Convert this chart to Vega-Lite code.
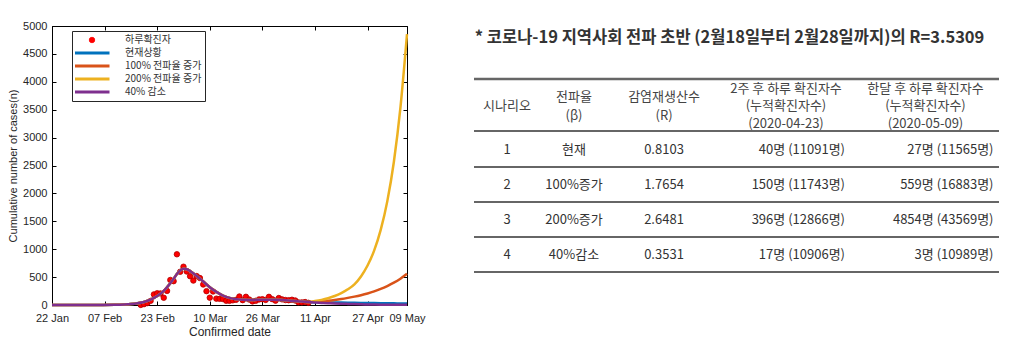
{
  "$schema": "https://vega.github.io/schema/vega-lite/v6.json",
  "background": "white",
  "padding": {"left": 7, "top": 19, "right": 5, "bottom": 5},
  "config": {
    "view": {"stroke": null},
    "font": "Liberation Sans"
  },
  "datasets": {
    "daily": [
      {"date": "2020-02-18", "cases": 1}, {"date": "2020-02-19", "cases": 15}, {"date": "2020-02-20", "cases": 34},
      {"date": "2020-02-21", "cases": 74}, {"date": "2020-02-22", "cases": 190}, {"date": "2020-02-23", "cases": 210},
      {"date": "2020-02-24", "cases": 207}, {"date": "2020-02-25", "cases": 130}, {"date": "2020-02-26", "cases": 253},
      {"date": "2020-02-27", "cases": 449}, {"date": "2020-02-28", "cases": 427}, {"date": "2020-02-29", "cases": 909},
      {"date": "2020-03-01", "cases": 595}, {"date": "2020-03-02", "cases": 686}, {"date": "2020-03-03", "cases": 600},
      {"date": "2020-03-04", "cases": 516}, {"date": "2020-03-05", "cases": 438}, {"date": "2020-03-06", "cases": 518},
      {"date": "2020-03-07", "cases": 483}, {"date": "2020-03-08", "cases": 367}, {"date": "2020-03-09", "cases": 248},
      {"date": "2020-03-10", "cases": 131}, {"date": "2020-03-11", "cases": 242}, {"date": "2020-03-12", "cases": 114},
      {"date": "2020-03-13", "cases": 110}, {"date": "2020-03-14", "cases": 107}, {"date": "2020-03-15", "cases": 76},
      {"date": "2020-03-16", "cases": 74}, {"date": "2020-03-17", "cases": 84}, {"date": "2020-03-18", "cases": 93},
      {"date": "2020-03-19", "cases": 152}, {"date": "2020-03-20", "cases": 87}, {"date": "2020-03-21", "cases": 147},
      {"date": "2020-03-22", "cases": 98}, {"date": "2020-03-23", "cases": 64}, {"date": "2020-03-24", "cases": 76},
      {"date": "2020-03-25", "cases": 100}, {"date": "2020-03-26", "cases": 104}, {"date": "2020-03-27", "cases": 91},
      {"date": "2020-03-28", "cases": 146}, {"date": "2020-03-29", "cases": 105}, {"date": "2020-03-30", "cases": 78},
      {"date": "2020-03-31", "cases": 125}, {"date": "2020-04-01", "cases": 101}, {"date": "2020-04-02", "cases": 89},
      {"date": "2020-04-03", "cases": 86}, {"date": "2020-04-04", "cases": 94}, {"date": "2020-04-05", "cases": 81},
      {"date": "2020-04-06", "cases": 47}, {"date": "2020-04-07", "cases": 47}, {"date": "2020-04-08", "cases": 53},
      {"date": "2020-04-09", "cases": 39}
    ],
    "model": [
      {"date": "2020-01-22", "현재상황": 0, "100% 전파율 증가": 0, "200% 전파율 증가": 0, "40% 감소": 0},
      {"date": "2020-01-29", "현재상황": 0, "100% 전파율 증가": 0, "200% 전파율 증가": 0, "40% 감소": 0},
      {"date": "2020-02-05", "현재상황": 1, "100% 전파율 증가": 1, "200% 전파율 증가": 1, "40% 감소": 1},
      {"date": "2020-02-10", "현재상황": 4, "100% 전파율 증가": 4, "200% 전파율 증가": 4, "40% 감소": 4},
      {"date": "2020-02-13", "현재상황": 10, "100% 전파율 증가": 10, "200% 전파율 증가": 10, "40% 감소": 10},
      {"date": "2020-02-15", "현재상황": 18, "100% 전파율 증가": 18, "200% 전파율 증가": 18, "40% 감소": 18},
      {"date": "2020-02-17", "현재상황": 32, "100% 전파율 증가": 32, "200% 전파율 증가": 32, "40% 감소": 32},
      {"date": "2020-02-19", "현재상황": 55, "100% 전파율 증가": 55, "200% 전파율 증가": 55, "40% 감소": 55},
      {"date": "2020-02-21", "현재상황": 95, "100% 전파율 증가": 95, "200% 전파율 증가": 95, "40% 감소": 95},
      {"date": "2020-02-23", "현재상황": 160, "100% 전파율 증가": 160, "200% 전파율 증가": 160, "40% 감소": 160},
      {"date": "2020-02-25", "현재상황": 255, "100% 전파율 증가": 255, "200% 전파율 증가": 255, "40% 감소": 255},
      {"date": "2020-02-27", "현재상황": 390, "100% 전파율 증가": 390, "200% 전파율 증가": 390, "40% 감소": 390},
      {"date": "2020-02-28", "현재상황": 470, "100% 전파율 증가": 470, "200% 전파율 증가": 470, "40% 감소": 470},
      {"date": "2020-02-29", "현재상황": 555, "100% 전파율 증가": 555, "200% 전파율 증가": 555, "40% 감소": 555},
      {"date": "2020-03-01", "현재상황": 620, "100% 전파율 증가": 620, "200% 전파율 증가": 620, "40% 감소": 620},
      {"date": "2020-03-02", "현재상황": 648, "100% 전파율 증가": 648, "200% 전파율 증가": 648, "40% 감소": 648},
      {"date": "2020-03-03", "현재상황": 640, "100% 전파율 증가": 640, "200% 전파율 증가": 640, "40% 감소": 640},
      {"date": "2020-03-04", "현재상황": 610, "100% 전파율 증가": 610, "200% 전파율 증가": 610, "40% 감소": 610},
      {"date": "2020-03-06", "현재상황": 520, "100% 전파율 증가": 520, "200% 전파율 증가": 520, "40% 감소": 520},
      {"date": "2020-03-08", "현재상황": 420, "100% 전파율 증가": 420, "200% 전파율 증가": 420, "40% 감소": 420},
      {"date": "2020-03-10", "현재상황": 320, "100% 전파율 증가": 320, "200% 전파율 증가": 320, "40% 감소": 320},
      {"date": "2020-03-12", "현재상황": 235, "100% 전파율 증가": 235, "200% 전파율 증가": 235, "40% 감소": 235},
      {"date": "2020-03-14", "현재상황": 170, "100% 전파율 증가": 170, "200% 전파율 증가": 170, "40% 감소": 170},
      {"date": "2020-03-16", "현재상황": 127, "100% 전파율 증가": 127, "200% 전파율 증가": 127, "40% 감소": 127},
      {"date": "2020-03-18", "현재상황": 104, "100% 전파율 증가": 104, "200% 전파율 증가": 104, "40% 감소": 104},
      {"date": "2020-03-20", "현재상황": 94, "100% 전파율 증가": 94, "200% 전파율 증가": 94, "40% 감소": 94},
      {"date": "2020-03-23", "현재상황": 90, "100% 전파율 증가": 90, "200% 전파율 증가": 90, "40% 감소": 90},
      {"date": "2020-03-26", "현재상황": 94, "100% 전파율 증가": 94, "200% 전파율 증가": 94, "40% 감소": 94},
      {"date": "2020-03-29", "현재상황": 94, "100% 전파율 증가": 94, "200% 전파율 증가": 94, "40% 감소": 94},
      {"date": "2020-04-01", "현재상황": 88, "100% 전파율 증가": 88, "200% 전파율 증가": 88, "40% 감소": 88},
      {"date": "2020-04-03", "현재상황": 80, "100% 전파율 증가": 80, "200% 전파율 증가": 80, "40% 감소": 80},
      {"date": "2020-04-05", "현재상황": 70, "100% 전파율 증가": 70, "200% 전파율 증가": 70, "40% 감소": 70},
      {"date": "2020-04-07", "현재상황": 61, "100% 전파율 증가": 61, "200% 전파율 증가": 61, "40% 감소": 61},
      {"date": "2020-04-09", "현재상황": 53, "100% 전파율 증가": 53, "200% 전파율 증가": 53, "40% 감소": 53},
      {"date": "2020-04-11", "현재상황": 51, "100% 전파율 증가": 58, "200% 전파율 증가": 70, "40% 감소": 45},
      {"date": "2020-04-13", "현재상황": 49, "100% 전파율 증가": 66, "200% 전파율 증가": 92, "40% 감소": 38},
      {"date": "2020-04-15", "현재상황": 47, "100% 전파율 증가": 77, "200% 전파율 증가": 122, "40% 감소": 32},
      {"date": "2020-04-17", "현재상황": 45, "100% 전파율 증가": 91, "200% 전파율 증가": 161, "40% 감소": 27},
      {"date": "2020-04-19", "현재상황": 43, "100% 전파율 증가": 108, "200% 전파율 증가": 213, "40% 감소": 23},
      {"date": "2020-04-21", "현재상황": 41, "100% 전파율 증가": 128, "200% 전파율 증가": 281, "40% 감소": 20},
      {"date": "2020-04-23", "현재상황": 40, "100% 전파율 증가": 150, "200% 전파율 증가": 371, "40% 감소": 17},
      {"date": "2020-04-25", "현재상황": 38, "100% 전파율 증가": 176, "200% 전파율 증가": 512, "40% 감소": 13},
      {"date": "2020-04-27", "현재상황": 37, "100% 전파율 증가": 207, "200% 전파율 증가": 707, "40% 감소": 10},
      {"date": "2020-04-29", "현재상황": 35, "100% 전파율 증가": 244, "200% 전파율 증가": 975, "40% 감소": 8},
      {"date": "2020-05-01", "현재상황": 33, "100% 전파율 증가": 288, "200% 전파율 증가": 1346, "40% 감소": 6.5},
      {"date": "2020-05-03", "현재상황": 31, "100% 전파율 증가": 340, "200% 전파율 증가": 1857, "40% 감소": 5},
      {"date": "2020-05-05", "현재상황": 30, "100% 전파율 증가": 400, "200% 전파율 증가": 2563, "40% 감소": 4.2},
      {"date": "2020-05-07", "현재상황": 28, "100% 전파율 증가": 472, "200% 전파율 증가": 3537, "40% 감소": 3.5},
      {"date": "2020-05-09", "현재상황": 27, "100% 전파율 증가": 559, "200% 전파율 증가": 4854, "40% 감소": 3}
    ],
    "note": [{"text": "* 코로나-19 지역사회 전파 초반 (2월18일부터 2월28일까지)의 R=3.5309"}],
    "header": [
      {"row": "h", "c1": "시나리오", "c2": "전파율\n(β)", "c3": "감염재생산수\n(R)", "c4": "2주 후 하루 확진자수\n(누적확진자수)\n(2020-04-23)", "c5": "한달 후 하루 확진자수\n(누적확진자수)\n(2020-05-09)"}
    ],
    "rows": [
      {"row": "1", "c1": "1", "c2": "현재", "c3": "0.8103", "c4": "40명 (11091명)", "c5": "27명 (11565명)"},
      {"row": "2", "c1": "2", "c2": "100%증가", "c3": "1.7654", "c4": "150명 (11743명)", "c5": "559명 (16883명)"},
      {"row": "3", "c1": "3", "c2": "200%증가", "c3": "2.6481", "c4": "396명 (12866명)", "c5": "4854명 (43569명)"},
      {"row": "4", "c1": "4", "c2": "40%감소", "c3": "0.3531", "c4": "17명 (10906명)", "c5": "3명 (10989명)"}
    ]
  },
  "spacing": 46,
  "hconcat": [
    {
      "width": 355,
      "height": 279,
      "view": {"stroke": "#000000", "strokeWidth": 1},
      "resolve": {"axis": {"x": "independent", "y": "independent"}},
      "layer": [
        {
          "data": {"name": "daily"},
          "mark": {"type": "point", "filled": true, "size": 30, "stroke": "#b00000", "strokeWidth": 0.8, "opacity": 1},
          "encoding": {
            "x": {
              "field": "date", "type": "temporal",
              "scale": {"type": "utc", "domain": [{"year": 2020, "month": 1, "date": 22, "utc": true}, {"year": 2020, "month": 5, "date": 9, "utc": true}]},
              "axis": {
                "orient": "bottom",
                "values": [
                  {"year": 2020, "month": 1, "date": 22, "utc": true}, {"year": 2020, "month": 2, "date": 7, "utc": true},
                  {"year": 2020, "month": 2, "date": 23, "utc": true}, {"year": 2020, "month": 3, "date": 10, "utc": true},
                  {"year": 2020, "month": 3, "date": 26, "utc": true}, {"year": 2020, "month": 4, "date": 11, "utc": true},
                  {"year": 2020, "month": 4, "date": 27, "utc": true}, {"year": 2020, "month": 5, "date": 9, "utc": true}
                ],
                "labelExpr": "utcFormat(datum.value, '%d %b')",
                "labelFlush": false, "labelOverlap": false,
                "title": "Confirmed date", "titleFontSize": 12, "titleFontWeight": "normal", "titleColor": "#262626", "titlePadding": 3,
                "labelFontSize": 11, "labelColor": "#262626", "labelPadding": 11,
                "tickSize": -4, "tickColor": "#000000", "domainColor": "#000000", "grid": false
              }
            },
            "y": {
              "field": "cases", "type": "quantitative",
              "scale": {"domain": [0, 5000], "nice": false},
              "axis": {
                "orient": "left",
                "values": [0, 500, 1000, 1500, 2000, 2500, 3000, 3500, 4000, 4500, 5000],
                "format": "d",
                "title": "Cumulative number of cases(n)", "titleFontSize": 11, "titleFontWeight": "normal", "titleColor": "#262626", "titlePadding": 4,
                "labelFontSize": 11, "labelColor": "#262626", "labelPadding": 9,
                "tickSize": -4, "tickColor": "#000000", "domainColor": "#000000", "grid": false
              }
            },
            "color": {
              "datum": "하루확진자", "type": "nominal",
              "scale": {
                "domain": ["하루확진자", "현재상황", "100% 전파율 증가", "200% 전파율 증가", "40% 감소"],
                "range": ["#ff0000", "#0072bd", "#d95319", "#edb120", "#7e2f8e"]
              }
            }
          }
        },
        {
          "data": {"name": "model"},
          "transform": [{"fold": ["현재상황", "100% 전파율 증가", "200% 전파율 증가", "40% 감소"], "as": ["series", "value"]}],
          "mark": {"type": "line", "strokeWidth": 2.5, "interpolate": "monotone"},
          "encoding": {
            "x": {
              "field": "date", "type": "temporal",
              "axis": {
                "orient": "top",
                "values": [
                  {"year": 2020, "month": 1, "date": 22, "utc": true}, {"year": 2020, "month": 2, "date": 7, "utc": true},
                  {"year": 2020, "month": 2, "date": 23, "utc": true}, {"year": 2020, "month": 3, "date": 10, "utc": true},
                  {"year": 2020, "month": 3, "date": 26, "utc": true}, {"year": 2020, "month": 4, "date": 11, "utc": true},
                  {"year": 2020, "month": 4, "date": 27, "utc": true}, {"year": 2020, "month": 5, "date": 9, "utc": true}
                ],
                "labels": false, "title": null, "domain": false, "grid": false,
                "tickSize": -4, "tickColor": "#000000"
              }
            },
            "y": {
              "field": "value", "type": "quantitative",
              "axis": {
                "orient": "right",
                "values": [0, 500, 1000, 1500, 2000, 2500, 3000, 3500, 4000, 4500, 5000],
                "labels": false, "title": null, "domain": false, "grid": false,
                "tickSize": -4, "tickColor": "#000000"
              }
            },
            "color": {
              "field": "series", "type": "nominal",
              "legend": {
                "title": null,
                "orient": "none", "legendX": 20, "legendY": 5,
                "fillColor": "#ffffff", "strokeColor": "#262626",
                "padding": 3,
                "labelFont": "Noto Sans CJK KR", "labelFontSize": 10, "labelColor": "#333333", "labelOffset": 28,
                "symbolType": "stroke", "symbolSize": 1225, "symbolStrokeWidth": 3, "symbolOffset": 12,
                "clipHeight": 12, "rowPadding": 1,
                "encode": {
                  "symbols": {
                    "update": {
                      "shape": {"signal": "datum.value === '하루확진자' ? 'circle' : 'stroke'"},
                      "size": {"signal": "datum.value === '하루확진자' ? 30 : 1225"},
                      "fill": {"signal": "datum.value === '하루확진자' ? '#ff0000' : 'transparent'"},
                      "stroke": {"signal": "datum.value === '하루확진자' ? '#b00000' : scale('color', datum.value)"},
                      "strokeWidth": {"signal": "datum.value === '하루확진자' ? 0.8 : 3"}
                    }
                  }
                }
              }
            }
          }
        }
      ]
    },
    {
      "spacing": 29,
      "bounds": "flush",
      "vconcat": [
        {
          "width": 525,
          "height": 24,
          "data": {"name": "note"},
          "mark": {"type": "text", "font": "Noto Sans CJK KR", "fontSize": 16.5, "fontWeight": "bold", "color": "#333333", "baseline": "middle", "dx": -7},
          "encoding": {"text": {"field": "text", "type": "nominal"}}
        },
        {
          "spacing": 0,
          "vconcat": [
            {
              "spacing": 0,
              "bounds": "flush",
              "hconcat": [
                {
                  "width": 66, "height": 52, "data": {"name": "header"},
                  "encoding": {"y": {"field": "row", "type": "nominal", "scale": {"type": "band", "domain": ["h"], "paddingInner": 0, "paddingOuter": 0}, "axis": null}},
                  "layer": [
                    {"mark": {"type": "text", "font": "Noto Sans CJK KR", "fontSize": 13, "color": "#444444", "lineBreak": "\n", "lineHeight": 17.5, "baseline": "middle", "dy": 1}, "encoding": {"text": {"field": "c1", "type": "nominal"}}},
                    {"mark": {"type": "rule", "color": "#666666", "strokeWidth": 2.5}, "encoding": {"y": {"field": "row", "type": "nominal", "bandPosition": 0}}},
                    {"mark": {"type": "rule", "color": "#333333", "strokeWidth": 1.6}, "encoding": {"y": {"field": "row", "type": "nominal", "bandPosition": 1}}}
                  ]
                },
                {
                  "width": 68, "height": 52, "data": {"name": "header"},
                  "encoding": {"y": {"field": "row", "type": "nominal", "scale": {"type": "band", "domain": ["h"], "paddingInner": 0, "paddingOuter": 0}, "axis": null}},
                  "layer": [
                    {"mark": {"type": "text", "font": "Noto Sans CJK KR", "fontSize": 13, "color": "#444444", "lineBreak": "\n", "lineHeight": 19, "baseline": "middle", "dy": -8}, "encoding": {"text": {"field": "c2", "type": "nominal"}}},
                    {"mark": {"type": "rule", "color": "#666666", "strokeWidth": 2.5}, "encoding": {"y": {"field": "row", "type": "nominal", "bandPosition": 0}}},
                    {"mark": {"type": "rule", "color": "#333333", "strokeWidth": 1.6}, "encoding": {"y": {"field": "row", "type": "nominal", "bandPosition": 1}}}
                  ]
                },
                {
                  "width": 112, "height": 52, "data": {"name": "header"},
                  "encoding": {"y": {"field": "row", "type": "nominal", "scale": {"type": "band", "domain": ["h"], "paddingInner": 0, "paddingOuter": 0}, "axis": null}},
                  "layer": [
                    {"mark": {"type": "text", "font": "Noto Sans CJK KR", "fontSize": 13, "color": "#444444", "lineBreak": "\n", "lineHeight": 19, "baseline": "middle", "dy": -8}, "encoding": {"text": {"field": "c3", "type": "nominal"}}},
                    {"mark": {"type": "rule", "color": "#666666", "strokeWidth": 2.5}, "encoding": {"y": {"field": "row", "type": "nominal", "bandPosition": 0}}},
                    {"mark": {"type": "rule", "color": "#333333", "strokeWidth": 1.6}, "encoding": {"y": {"field": "row", "type": "nominal", "bandPosition": 1}}}
                  ]
                },
                {
                  "width": 132, "height": 52, "data": {"name": "header"},
                  "encoding": {"y": {"field": "row", "type": "nominal", "scale": {"type": "band", "domain": ["h"], "paddingInner": 0, "paddingOuter": 0}, "axis": null}},
                  "layer": [
                    {"mark": {"type": "text", "font": "Noto Sans CJK KR", "fontSize": 13, "color": "#444444", "lineBreak": "\n", "lineHeight": 17.5, "baseline": "middle", "dy": -16.5}, "encoding": {"text": {"field": "c4", "type": "nominal"}}},
                    {"mark": {"type": "rule", "color": "#666666", "strokeWidth": 2.5}, "encoding": {"y": {"field": "row", "type": "nominal", "bandPosition": 0}}},
                    {"mark": {"type": "rule", "color": "#333333", "strokeWidth": 1.6}, "encoding": {"y": {"field": "row", "type": "nominal", "bandPosition": 1}}}
                  ]
                },
                {
                  "width": 147, "height": 52, "data": {"name": "header"},
                  "encoding": {"y": {"field": "row", "type": "nominal", "scale": {"type": "band", "domain": ["h"], "paddingInner": 0, "paddingOuter": 0}, "axis": null}},
                  "layer": [
                    {"mark": {"type": "text", "font": "Noto Sans CJK KR", "fontSize": 13, "color": "#444444", "lineBreak": "\n", "lineHeight": 17.5, "baseline": "middle", "dy": -16.5}, "encoding": {"text": {"field": "c5", "type": "nominal"}}},
                    {"mark": {"type": "rule", "color": "#666666", "strokeWidth": 2.5}, "encoding": {"y": {"field": "row", "type": "nominal", "bandPosition": 0}}},
                    {"mark": {"type": "rule", "color": "#333333", "strokeWidth": 1.6}, "encoding": {"y": {"field": "row", "type": "nominal", "bandPosition": 1}}}
                  ]
                }
              ]
            },
            {
              "spacing": 0,
              "bounds": "flush",
              "hconcat": [
                {
                  "width": 66, "height": 140, "data": {"name": "rows"},
                  "encoding": {"y": {"field": "row", "type": "nominal", "scale": {"type": "band", "domain": ["1", "2", "3", "4"], "paddingInner": 0, "paddingOuter": 0}, "axis": null}},
                  "layer": [
                    {"mark": {"type": "text", "font": "Noto Sans CJK KR", "fontSize": 13, "color": "#333333", "baseline": "middle"}, "encoding": {"text": {"field": "c1", "type": "nominal"}}},
                    {"mark": {"type": "rule", "color": "#333333", "strokeWidth": 1.6}, "encoding": {"y": {"field": "row", "type": "nominal", "bandPosition": 1}}}
                  ]
                },
                {
                  "width": 68, "height": 140, "data": {"name": "rows"},
                  "encoding": {"y": {"field": "row", "type": "nominal", "scale": {"type": "band", "domain": ["1", "2", "3", "4"], "paddingInner": 0, "paddingOuter": 0}, "axis": null}},
                  "layer": [
                    {"mark": {"type": "text", "font": "Noto Sans CJK KR", "fontSize": 13, "color": "#333333", "baseline": "middle"}, "encoding": {"text": {"field": "c2", "type": "nominal"}}},
                    {"mark": {"type": "rule", "color": "#333333", "strokeWidth": 1.6}, "encoding": {"y": {"field": "row", "type": "nominal", "bandPosition": 1}}}
                  ]
                },
                {
                  "width": 112, "height": 140, "data": {"name": "rows"},
                  "encoding": {"y": {"field": "row", "type": "nominal", "scale": {"type": "band", "domain": ["1", "2", "3", "4"], "paddingInner": 0, "paddingOuter": 0}, "axis": null}},
                  "layer": [
                    {"mark": {"type": "text", "font": "Noto Sans CJK KR", "fontSize": 13, "color": "#333333", "baseline": "middle"}, "encoding": {"text": {"field": "c3", "type": "nominal"}}},
                    {"mark": {"type": "rule", "color": "#333333", "strokeWidth": 1.6}, "encoding": {"y": {"field": "row", "type": "nominal", "bandPosition": 1}}}
                  ]
                },
                {
                  "width": 132, "height": 140, "data": {"name": "rows"},
                  "encoding": {"y": {"field": "row", "type": "nominal", "scale": {"type": "band", "domain": ["1", "2", "3", "4"], "paddingInner": 0, "paddingOuter": 0}, "axis": null}},
                  "layer": [
                    {"mark": {"type": "text", "font": "Noto Sans CJK KR", "fontSize": 13, "color": "#333333", "baseline": "middle", "align": "right", "dx": 59}, "encoding": {"text": {"field": "c4", "type": "nominal"}}},
                    {"mark": {"type": "rule", "color": "#333333", "strokeWidth": 1.6}, "encoding": {"y": {"field": "row", "type": "nominal", "bandPosition": 1}}}
                  ]
                },
                {
                  "width": 147, "height": 140, "data": {"name": "rows"},
                  "encoding": {"y": {"field": "row", "type": "nominal", "scale": {"type": "band", "domain": ["1", "2", "3", "4"], "paddingInner": 0, "paddingOuter": 0}, "axis": null}},
                  "layer": [
                    {"mark": {"type": "text", "font": "Noto Sans CJK KR", "fontSize": 13, "color": "#333333", "baseline": "middle", "align": "right", "dx": 68}, "encoding": {"text": {"field": "c5", "type": "nominal"}}},
                    {"mark": {"type": "rule", "color": "#333333", "strokeWidth": 1.6}, "encoding": {"y": {"field": "row", "type": "nominal", "bandPosition": 1}}}
                  ]
                }
              ]
            }
          ]
        }
      ]
    }
  ]
}
